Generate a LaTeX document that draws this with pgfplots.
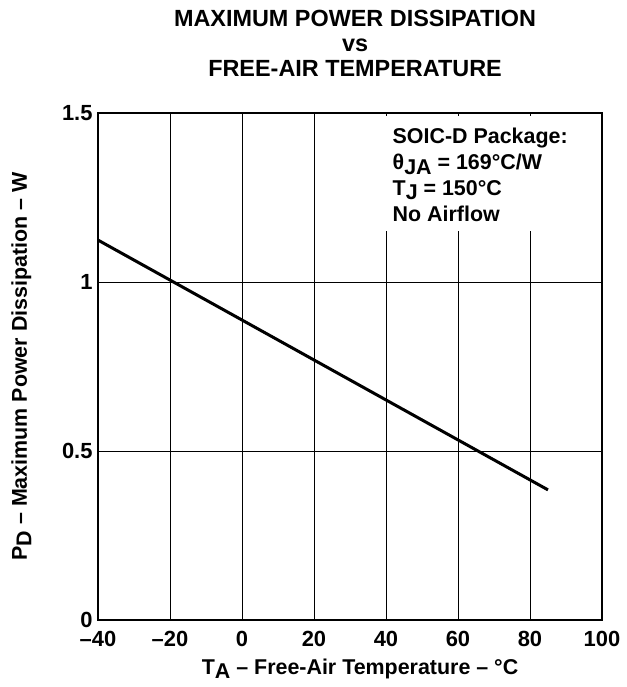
\documentclass[border=0pt]{standalone}
\usepackage{pgfplots}
\pgfplotsset{compat=1.18}
\usepackage{fontspec}
\setmainfont{Liberation Sans}
\newcommand{\sub}[1]{\raisebox{-0.4ex}{#1}}
\begin{document}
\begin{tikzpicture}
\useasboundingbox (-98bp,-67bp) rectangle (529bp,620bp);
\begin{axis}[
  scale only axis,
  width=504bp, height=507bp,
  xmin=-40, xmax=100, ymin=0, ymax=1.5,
  xtick={-40,-20,0,20,40,60,80,100},
  xticklabels={\textbf{–40},\textbf{–20},\textbf{0},\textbf{20},\textbf{40},\textbf{60},\textbf{80},\textbf{100}},
  ytick={0,0.5,1,1.5},
  yticklabels={\textbf{0},\textbf{0.5},\textbf{1},\textbf{1.5}},
  tick style={draw=none},
  grid=major,
  major grid style={black, line width=0.7bp},
  axis line style={black, line width=2bp},
  tick label style={font=\fontsize{22}{25}\selectfont\bfseries},
  xticklabel style={yshift=-8bp},
  yticklabel style={xshift=-2bp},
  label style={font=\fontsize{21.5}{25}\selectfont\bfseries},
  xlabel={T\sub{A} – Free-Air Temperature – °C},
  ylabel={P\sub{D} – Maximum Power Dissipation – W},
  xlabel style={at={(axis description cs:0.52,0)}, anchor=base, yshift=-54bp},
  ylabel style={at={(axis description cs:-0.152,0.5)}, anchor=center, rotate=0},
  title={MAXIMUM POWER DISSIPATION\\vs\\FREE-AIR TEMPERATURE},
  title style={align=center, font=\fontsize{23.5}{25}\selectfont\bfseries,
               at={(axis description cs:0.51,1)}, anchor=south, yshift=27bp},
]
\addplot[black, line width=3bp] coordinates {(-40,1.124) (85,0.385)};
\fill[white] (axis cs:39,1.15) rectangle (axis cs:99.4,1.49);
\node[anchor=north west, align=left, inner sep=0pt,
      font=\fontsize{21.5}{26}\selectfont\bfseries]
  at (axis cs:41.8,1.456)
  {SOIC-D Package:\\θ\sub{JA} = 169°C/W\\T\sub{J} = 150°C\\No Airflow};
\end{axis}
\end{tikzpicture}
\end{document}
